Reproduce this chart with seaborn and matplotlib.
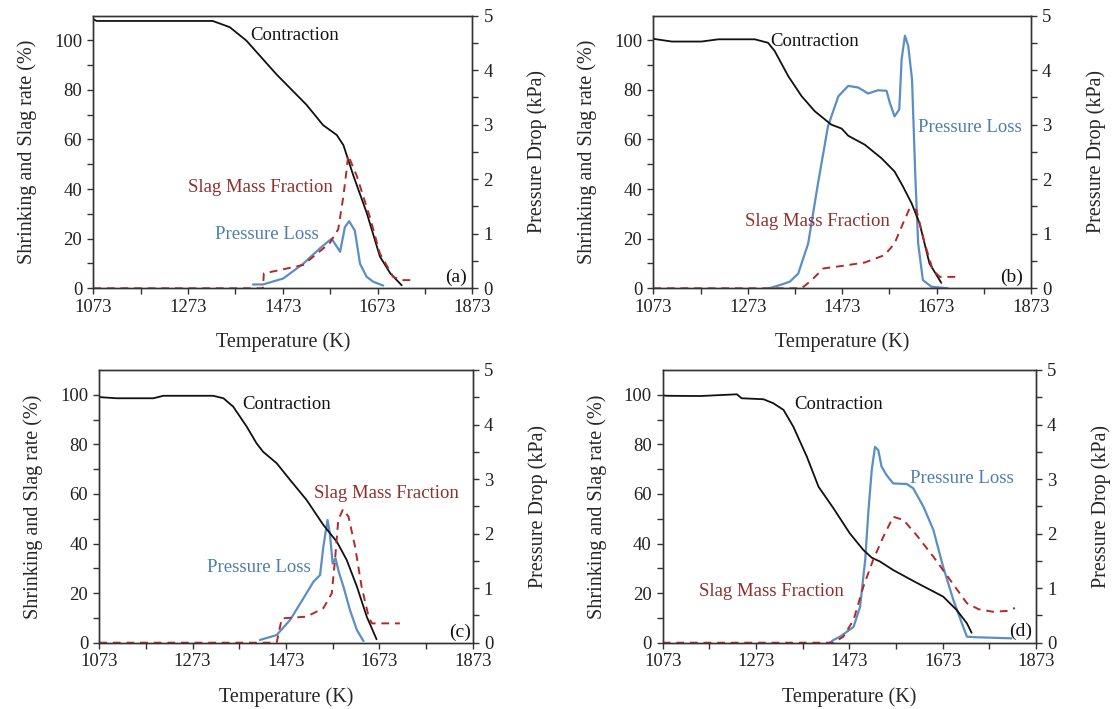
import matplotlib
matplotlib.use("Agg")
import matplotlib.pyplot as plt
import seaborn as sns
import pandas as pd
from matplotlib.ticker import MultipleLocator, FixedLocator

# ---------------- data ----------------
a_con_T = [1073, 1080, 1325, 1361, 1396, 1460, 1523, 1558, 1587, 1601, 1622, 1650, 1678, 1700, 1724]
a_con = [108.5, 107.8, 107.8, 105.3, 99.9, 86.2, 74, 65.8, 61.8, 57.7, 45.4, 30.5, 12.8, 6, 1.2]
a_slag_T = [1073, 1431, 1433, 1516, 1572, 1590, 1601, 1608, 1611, 1629, 1657, 1678, 1706, 1724, 1752]
a_slag = [0, 0, 6, 9.4, 18.2, 23.8, 37.3, 48.2, 53.6, 45.4, 28.6, 14, 4.6, 3.3, 3.3]
a_pl_T = [1410, 1431, 1474, 1516, 1551, 1576, 1594, 1604, 1613, 1625, 1636, 1650, 1664, 1685]
a_pl = [0.07, 0.07, 0.18, 0.45, 0.73, 0.91, 0.67, 1.12, 1.23, 1.06, 0.45, 0.21, 0.12, 0.05]

b_con_T = [1073, 1080, 1112, 1175, 1211, 1288, 1316, 1330, 1359, 1387, 1415, 1450, 1472, 1486,
           1521, 1556, 1584, 1602, 1620, 1637, 1658, 1683]
b_con = [100.6, 100.4, 99.5, 99.5, 100.4, 100.4, 99, 95.7, 85.5, 77.5, 71.4, 66, 64.4, 61.5,
         57.9, 52.5, 47.1, 41, 34.3, 26.2, 10, 2.2]
b_slag_T = [1073, 1387, 1408, 1433, 1472, 1521, 1563, 1584, 1602, 1616, 1630, 1648, 1665, 1680, 1722]
b_slag = [0, 0, 3.2, 8, 9, 10.4, 13.4, 18.1, 26.2, 32.3, 31.6, 18.1, 7.3, 4.6, 4.6]
b_pl_T = [1318, 1330, 1345, 1362, 1380, 1401, 1422, 1443, 1465, 1486, 1507, 1528, 1549, 1567,
          1574, 1584, 1594, 1599, 1606, 1613, 1621, 1628, 1634, 1644, 1662, 1697]
b_pl = [0.0, 0.03, 0.07, 0.12, 0.27, 0.82, 1.93, 2.97, 3.52, 3.71, 3.68, 3.57, 3.63, 3.62,
        3.40, 3.15, 3.28, 4.2, 4.63, 4.44, 3.83, 2.05, 0.82, 0.15, 0.03, 0.0]

c_con_T = [1073, 1078, 1110, 1189, 1210, 1317, 1339, 1360, 1389, 1410, 1424, 1453, 1482, 1517,
           1553, 1582, 1603, 1625, 1646, 1667]
c_con = [99.2, 99, 98.6, 98.6, 99.6, 99.6, 98.6, 95.2, 87.1, 80.4, 77, 72.4, 65.6, 57.6,
         47.5, 40.7, 33.4, 22.6, 10.5, 1.4]
c_slag_T = [1073, 1453, 1464, 1517, 1553, 1571, 1578, 1585, 1595, 1607, 1621, 1635, 1650, 1657, 1717]
c_slag = [0, 0, 9.8, 10.5, 13.9, 19.9, 33.4, 49.5, 53.8, 50.8, 38.7, 22.6, 10.5, 7.8, 7.8]
c_pl_T = [1417, 1453, 1482, 1510, 1532, 1546, 1553, 1562, 1567, 1573, 1579, 1586, 1596, 1610, 1625, 1639]
c_pl = [0.05, 0.14, 0.42, 0.81, 1.12, 1.24, 1.76, 2.25, 2.0, 1.45, 1.55, 1.3, 1.03, 0.6, 0.23, 0.03]

d_con_T = [1073, 1082, 1153, 1232, 1242, 1289, 1310, 1332, 1353, 1382, 1407, 1439, 1474, 1503,
           1521, 1539, 1567, 1617, 1674, 1703, 1725, 1735]
d_con = [99.8, 99.6, 99.5, 100.2, 98.6, 98.2, 96.6, 93.9, 87.1, 75, 62.9, 54.2, 44.1, 37.4,
         34.3, 32.7, 29.3, 24.2, 18.6, 13.2, 7.8, 4]
d_slag_T = [1073, 1439, 1460, 1482, 1503, 1524, 1546, 1567, 1589, 1617, 1653, 1689, 1725, 1750,
            1780, 1810, 1828]
d_slag = [0, 0, 2.4, 9.2, 22.6, 33.4, 42.8, 50.8, 49.5, 43.4, 34.7, 25.3, 15.9, 13.5,
          12.5, 12.8, 14]
d_pl_T = [1431, 1439, 1453, 1482, 1496, 1507, 1514, 1521, 1528, 1535, 1542, 1553, 1567, 1596,
          1610, 1632, 1653, 1674, 1696, 1714, 1725, 1746, 1820]
d_pl = [0.0, 0.05, 0.11, 0.29, 0.66, 1.52, 2.43, 3.17, 3.59, 3.53, 3.23, 3.07, 2.92, 2.91,
        2.83, 2.49, 2.07, 1.39, 0.78, 0.36, 0.11, 0.1, 0.08]

x_ticks = [1073, 1173, 1273, 1373, 1473, 1573, 1673, 1773, 1873]
x_labels = ["1073", "", "1273", "", "1473", "", "1673", "", "1873"]

panel_tags = ["(a)", "(b)", "(c)", "(d)"]
# label positions (data coords): contraction, slag, pressure, tag
label_pos = [
    dict(con=(1497, 102), slag=(1425, 40.8), pl=(1440, 21.5), tag=(1838, 4.5)),
    dict(con=(1415, 99.7), slag=(1421, 27), pl=(1743, 65), tag=(1832, 4.5)),
    dict(con=(1475, 95.9), slag=(1689, 60), pl=(1415, 30.5), tag=(1845, 4.3)),
    dict(con=(1449, 95.9), slag=(1307, 20.5), pl=(1714, 66.4), tag=(1839, 4.7)),
]

panels = [
    (a_con_T, a_con, a_slag_T, a_slag, a_pl_T, a_pl),
    (b_con_T, b_con, b_slag_T, b_slag, b_pl_T, b_pl),
    (c_con_T, c_con, c_slag_T, c_slag, c_pl_T, c_pl),
    (d_con_T, d_con, d_slag_T, d_slag, d_pl_T, d_pl),
]

# ---------------- style ----------------
sns.set_theme(style="ticks")
plt.rcParams["font.family"] = ["Liberation Serif", "DejaVu Serif"]
plt.rcParams["axes.edgecolor"] = "#333333"
plt.rcParams["axes.linewidth"] = 1.0
plt.rcParams["xtick.color"] = "#333333"
plt.rcParams["ytick.color"] = "#333333"
plt.rcParams["xtick.labelcolor"] = "#222222"
plt.rcParams["ytick.labelcolor"] = "#222222"

BLACK = "#111111"
BLUE = "#5b8ec4"
RED = "#b02a2a"
BLUE_TXT = "#4f7ea9"
RED_TXT = "#8e2f2f"

fig = plt.figure(figsize=(11.12, 7.09), dpi=100)
W, H = 1112.0, 709.0
boxes = [  # left px, top px, right px, bottom px
    (93.3, 15.5, 472.3, 288.3),
    (653.3, 15.5, 1031.0, 288.3),
    (99.3, 370.0, 472.7, 642.7),
    (662.7, 370.0, 1036.0, 642.7),
]

for i, (box, data) in enumerate(zip(boxes, panels)):
    l, t, r, b = box
    ax = fig.add_axes([l / W, 1 - b / H, (r - l) / W, (b - t) / H])
    ax2 = ax.twinx()
    conT, con, slT, sl, plT, pl = data

    sns.lineplot(x=conT, y=con, ax=ax, color=BLACK, linewidth=1.3, legend=False)
    sns.lineplot(x=slT, y=sl, ax=ax, color=RED, linewidth=1.4, linestyle=(0, (4, 3)), legend=False)
    sns.lineplot(x=plT, y=pl, ax=ax2, color=BLUE, linewidth=1.6, legend=False)

    ax.set_xlim(1073, 1873)
    ax.set_ylim(0, 110)
    ax2.set_ylim(0, 5)
    ax.xaxis.set_major_locator(FixedLocator(x_ticks))
    ax.set_xticklabels(x_labels)
    ax.yaxis.set_major_locator(FixedLocator([0, 20, 40, 60, 80, 100]))
    ax.yaxis.set_minor_locator(FixedLocator([10, 30, 50, 70, 90]))
    ax2.yaxis.set_major_locator(MultipleLocator(1))
    ax2.yaxis.set_minor_locator(MultipleLocator(0.5))
    for a in (ax, ax2):
        a.tick_params(which="both", direction="out", length=4.5, width=1.0, labelsize=13.5)
    ax.tick_params(axis="x", pad=3)

    ax.set_xlabel("Temperature (K)", fontsize=14.5, labelpad=12)
    ax.set_ylabel("Shrinking and Slag rate (%)", fontsize=14.5, labelpad=12)
    ax2.set_ylabel("Pressure Drop (kPa)", fontsize=14.5, labelpad=25)
    ax.set_zorder(ax2.get_zorder() + 1)
    ax.patch.set_visible(False)

    lp = label_pos[i]
    ax.text(*lp["con"], "Contraction", fontsize=13.5, color=BLACK, ha="center", va="center")
    ax.text(*lp["slag"], "Slag Mass Fraction", fontsize=13.5, color=RED_TXT, ha="center", va="center")
    ax.text(*lp["pl"], "Pressure Loss", fontsize=13.5, color=BLUE_TXT, ha="center", va="center")
    ax.text(*lp["tag"], panel_tags[i], fontsize=14, color=BLACK, ha="center", va="center")
    for s in ax.spines.values():
        s.set_visible(True)

fig.savefig("out.png", dpi=100)
